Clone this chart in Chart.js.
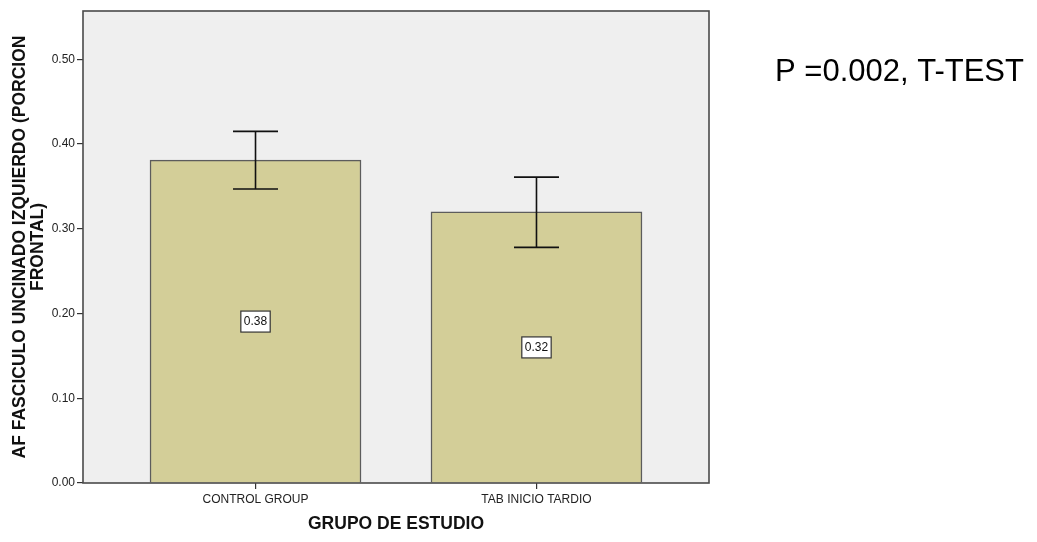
<!DOCTYPE html>
<html>
<head>
<meta charset="utf-8">
<title>AF fascículo uncinado izquierdo</title>
<script src="https://cdn.jsdelivr.net/npm/chart.js@4.4.1/dist/chart.umd.min.js"></script>
<style>
  html, body { margin: 0; padding: 0; background: #ffffff; }
  #wrap { position: relative; width: 1037px; height: 542px; }
  canvas { display: block; }
</style>
</head>
<body>
<div id="wrap"><canvas id="chart" width="1037" height="542"></canvas></div>
<script>
// Study groups and their mean FA with 95% confidence limits
const categories = ['CONTROL GROUP', 'TAB INICIO TARDIO'];
const groupPositions = [1, 2];
const means = [0.381, 0.320];
const ciLower = [0.347, 0.278];
const ciUpper = [0.415, 0.361];
const yTickValues = [0, 0.1, 0.2, 0.3, 0.4, 0.5];

const yTitleLines = ['AF FASCICULO UNCINADO IZQUIERDO (PORCION', 'FRONTAL)'];
const xTitle = 'GRUPO DE ESTUDIO';
const noteText = 'P =0.002, T-TEST';

const FONT = "'Liberation Sans', Arial, Helvetica, sans-serif";

// Grey plot background plus a dark frame round the plotting area
const frame = {
  id: 'frame',
  beforeDatasetsDraw(chart) {
    const a = chart.chartArea, ctx = chart.ctx;
    ctx.save();
    ctx.fillStyle = '#efefef';
    ctx.fillRect(a.left, a.top, a.right - a.left, a.bottom - a.top);
    ctx.restore();
  },
  afterDatasetsDraw(chart) {
    const a = chart.chartArea, ctx = chart.ctx;
    ctx.save();
    ctx.strokeStyle = '#4a4a4a';
    ctx.lineWidth = 1.6;
    ctx.strokeRect(a.left, a.top, a.right - a.left, a.bottom - a.top);
    ctx.restore();
  }
};

// Confidence interval whiskers and value boxes in the middle of each bar
const barExtras = {
  id: 'barExtras',
  afterDatasetsDraw(chart) {
    const ctx = chart.ctx;
    const xs = chart.scales.x, ys = chart.scales.y;
    ctx.save();
    groupPositions.forEach((pos, i) => {
      const x = xs.getPixelForValue(pos);
      const yLo = ys.getPixelForValue(ciLower[i]);
      const yHi = ys.getPixelForValue(ciUpper[i]);
      const half = 22.5;
      ctx.strokeStyle = '#111';
      ctx.lineWidth = 1.6;
      ctx.beginPath();
      ctx.moveTo(x, yHi); ctx.lineTo(x, yLo);
      ctx.moveTo(x - half, yHi); ctx.lineTo(x + half, yHi);
      ctx.moveTo(x - half, yLo); ctx.lineTo(x + half, yLo);
      ctx.stroke();

      const label = means[i].toFixed(2);
      const yMid = ys.getPixelForValue(means[i] / 2);
      ctx.font = '12px ' + FONT;
      const w = ctx.measureText(label).width + 6;
      const h = 21;
      ctx.fillStyle = '#ffffff';
      ctx.fillRect(x - w / 2, yMid - h / 2, w, h);
      ctx.strokeStyle = '#333';
      ctx.lineWidth = 1.2;
      ctx.strokeRect(x - w / 2, yMid - h / 2, w, h);
      ctx.fillStyle = '#111';
      ctx.textAlign = 'center';
      ctx.textBaseline = 'middle';
      ctx.fillText(label, x, yMid + 0.5);
    });
    ctx.restore();
  }
};

// Axis titles and the test note beside the plot
const titles = {
  id: 'titles',
  afterDraw(chart) {
    const ctx = chart.ctx, a = chart.chartArea;
    ctx.save();
    ctx.fillStyle = '#111';
    ctx.font = 'bold 17.5px ' + FONT;
    ctx.textAlign = 'center';
    ctx.textBaseline = 'middle';
    const cy = (a.top + a.bottom) / 2;
    ctx.save();
    ctx.translate(20, cy);
    ctx.rotate(-Math.PI / 2);
    yTitleLines.forEach((line, k) => ctx.fillText(line, 0, k * 18));
    ctx.restore();
    ctx.fillText(xTitle, (a.left + a.right) / 2, 524);

    ctx.font = '31px ' + FONT;
    ctx.textAlign = 'left';
    ctx.textBaseline = 'alphabetic';
    ctx.fillStyle = '#000';
    ctx.fillText(noteText, 775, 81);
    ctx.restore();
  }
};

new Chart(document.getElementById('chart'), {
  type: 'bar',
  data: {
    datasets: [{
      data: groupPositions.map((p, i) => ({ x: p, y: means[i] })),
      backgroundColor: '#d3ce98',
      borderColor: '#5c5c5c',
      borderWidth: 1.5,
      barThickness: 211
    }]
  },
  options: {
    responsive: false,
    animation: false,
    layout: { padding: { left: 0, top: 11, right: 328, bottom: 0 } },
    plugins: { legend: { display: false }, tooltip: { enabled: false } },
    scales: {
      x: {
        type: 'linear',
        offset: false,
        min: 0.386,
        max: 2.614,
        afterBuildTicks: axis => { axis.ticks = groupPositions.map(v => ({ value: v })); },
        afterFit: axis => { axis.height = 59; },
        ticks: {
          callback: v => categories[groupPositions.indexOf(v)],
          font: { family: FONT, size: 12 },
          color: '#222',
          padding: 3,
          maxRotation: 0
        },
        grid: { offset: false, drawOnChartArea: false, drawTicks: true, tickLength: 6, color: '#333', lineWidth: 1.2 },
        border: { display: false }
      },
      y: {
        min: 0,
        max: 0.557,
        afterBuildTicks: axis => { axis.ticks = yTickValues.map(v => ({ value: v })); },
        afterFit: axis => { axis.width = 83; },
        ticks: {
          callback: v => v.toFixed(2),
          font: { family: FONT, size: 12 },
          color: '#222',
          padding: 2
        },
        grid: { drawOnChartArea: false, drawTicks: true, tickLength: 6, color: '#333', lineWidth: 1.2 },
        border: { display: false }
      }
    }
  },
  plugins: [frame, barExtras, titles]
});
</script>
</body>
</html>
